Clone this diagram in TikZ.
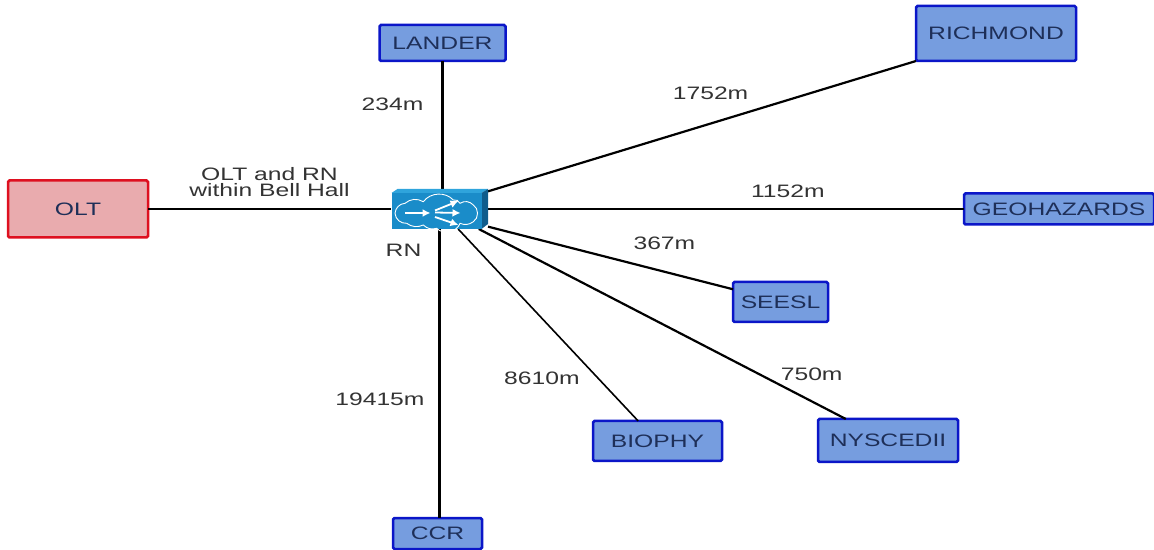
\documentclass[tikz,border=0pt]{standalone}
\usepackage{fontspec}
\setmainfont[FakeStretch=1.37]{Liberation Sans}
\usepackage{xcolor}
\usetikzlibrary{arrows.meta,positioning}
\definecolor{sitefill}{HTML}{769DDF}
\definecolor{siteline}{HTML}{0B16C8}
\definecolor{sitetext}{HTML}{1E2F58}
\definecolor{oltfill}{HTML}{E9ABAE}
\definecolor{oltline}{HTML}{DE1020}
\definecolor{labelgray}{HTML}{333333}
\definecolor{rnfront}{HTML}{1A8CC9}
\definecolor{rntop}{HTML}{2FA4DC}
\definecolor{rnside}{HTML}{0F5C8C}
\begin{document}
\begin{tikzpicture}[
 x=1pt,y=1pt,
 box/.style={draw=siteline,line width=2.5pt,rounded corners=1.5pt,fill=sitefill,text=sitetext,align=center,inner sep=0pt,outer sep=0pt,font=\fontsize{18}{16}\selectfont},
 link/.style={draw=black,line width=2.2pt},
 trunk/.style={draw=black,line width=3pt},
 lbl/.style={text=labelgray,align=center,inner sep=0pt,font=\fontsize{18}{16}\selectfont},
 flow/.style={-{Latex[length=8pt,width=8pt]},draw=white,line width=1.8pt}
]
\useasboundingbox (0,0) rectangle (1154,549);
\node[minimum width=97pt,minimum height=40pt,inner sep=0pt,outer sep=0pt] (rn) at (439.5,340) {};
\node[box,minimum width=126pt,minimum height=36pt,above=128pt of rn,xshift=3pt] (lander) {LANDER};
\node[box,minimum width=140pt,minimum height=57pt,left=243pt of rn,draw=oltline,fill=oltfill] (olt) {OLT};
\node[box,minimum width=160pt,minimum height=55pt,above right=128pt and 428pt of rn] (richmond) {RICHMOND};
\node[box,minimum width=190pt,minimum height=31pt,right=476pt of rn] (geohazards) {GEOHAZARDS};
\node[box,minimum width=95pt,minimum height=40pt,below right=53pt and 245pt of rn] (seesl) {SEESL};
\node[box,minimum width=140pt,minimum height=43pt,below right=190pt and 330pt of rn] (nyscedii) {NYSCEDII};
\node[box,minimum width=129pt,minimum height=40pt,below right=192pt and 105pt of rn] (biophy) {BIOPHY};
\node[box,minimum width=89pt,minimum height=31pt,below=289pt of rn,xshift=-2pt] (ccr) {CCR};
\draw[trunk] (lander.south) -- node[lbl,pos=.34,xshift=-50pt]{234m} (lander.south |- rn.north);
\draw[trunk] (ccr.81) -- node[lbl,pos=.41,xshift=-60pt]{19415m} (ccr.81 |- rn.south);
\draw[link] (olt.east) -- node[lbl,midway,yshift=27pt]{OLT and RN\\within Bell Hall} (rn.west);
\draw[link] (rn.east) -- node[lbl,pos=.63,yshift=18pt]{1152m} (geohazards.west);
\draw[link] (rn.20) -- node[lbl,pos=.52,yshift=30pt]{1752m} (richmond.south west);
\draw[link] (rn.-20) -- node[lbl,pos=.72,yshift=28pt]{367m} (seesl.165);
\draw[link] (rn.-27) -- node[lbl,pos=.907,yshift=27.5pt]{750m} (nyscedii.153);
\draw[link,line width=1.6pt] (rn.-47) -- node[lbl,pos=.776,xshift=-56pt]{8610m} (biophy.134);
% switch icon
\begin{scope}[shift={(rn.center)}]
\fill[rntop] (-48,16) -- (-42,20) -- (48.5,20) -- (42,16) -- cycle;
\fill[rnside] (42,16) -- (48.5,20) -- (48.5,-15) -- (42,-20) -- cycle;
\fill[rnfront] (-48,16) rectangle (42,-20);
\draw[white,line width=.9pt] (-44.5,-4.3) to[bend left=40] (-34.5,5.7) to[bend left=35] (-16.2,7.3) to[bend left=50] (13.8,9) to[bend left=40] (20.5,5.7) to[bend left=40] (33.8,4) to[bend left=60] (33.8,-12.7) to[bend left=30] (20.5,-14.3) to[bend left=60] (-2.8,-19.3) to[bend left=30] (-16.2,-16) to[bend left=30] (-32.8,-14.3) to[bend left=45] (-44.5,-4.3);
\draw[flow] (-34.5,-4) -- (-9,-4);
\draw[flow] (-4.5,-3.5) -- (21,-4);
\draw[flow] (-4.5,-1.5) -- (19,8);
\draw[flow] (-4.5,-8) -- (19,-16);
\end{scope}
\node[lbl,below=15pt of rn,xshift=-36pt] (rnname) {RN};
\end{tikzpicture}
\end{document}
